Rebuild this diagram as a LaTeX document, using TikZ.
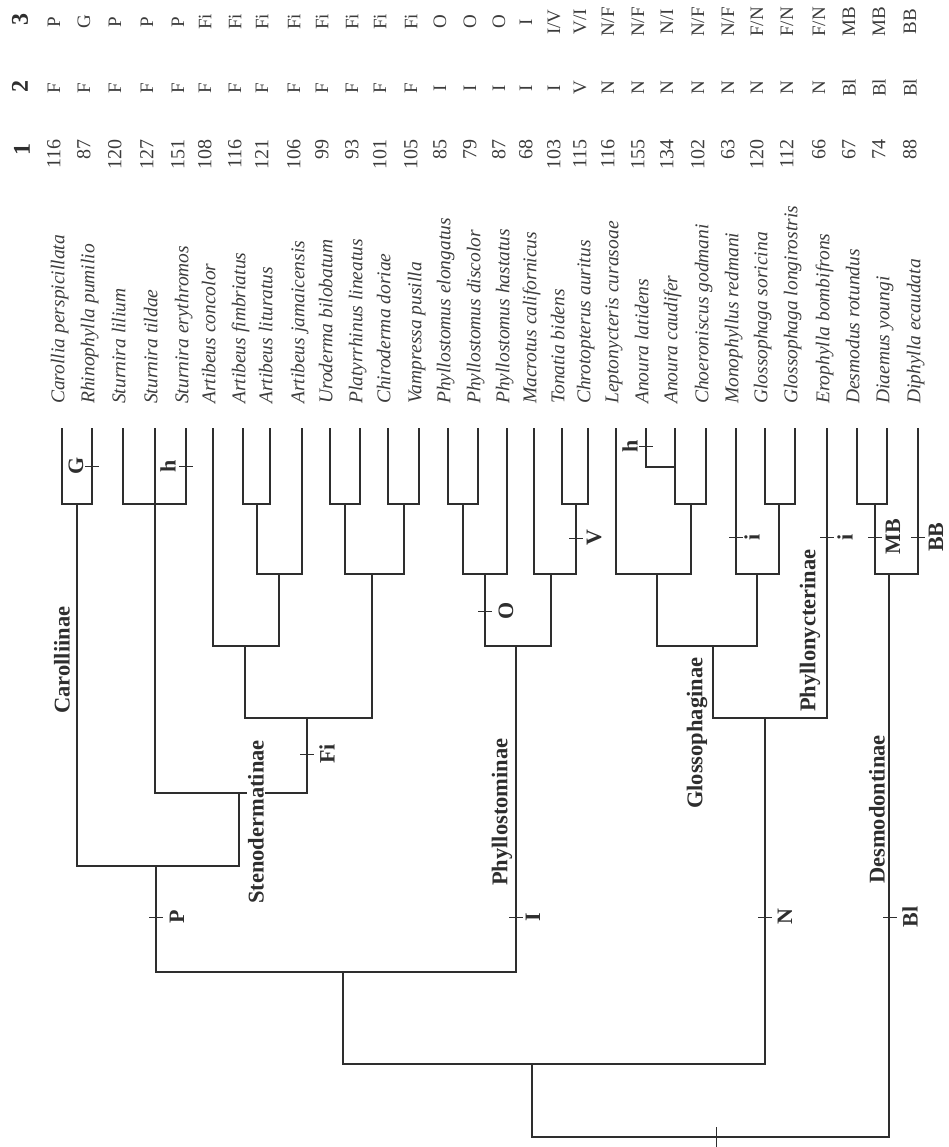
\documentclass[tikz,border=0pt]{standalone}
\usepackage{fontspec}
\setmainfont{Liberation Serif}
\usetikzlibrary{positioning}
\definecolor{ink}{HTML}{2E2E2E}
\definecolor{softink}{HTML}{3C3C3C}

\begin{document}
\begin{tikzpicture}[
  x=1pt,y=-1pt,
  br/.style={draw=ink,line width=1.1pt},
  tickline/.style={draw=ink,line width=0.9pt},
  taxon/.style={rotate=90,anchor=mid west,inner sep=0pt,text=softink,font=\fontsize{19.5}{20}\selectfont\itshape},
  score/.style={rotate=90,anchor=mid east,inner sep=0pt,text=softink,font=\fontsize{20}{20}\selectfont},
  datum/.style={rotate=90,anchor=center,inner sep=0pt,text=softink,font=\fontsize{19}{20}\selectfont},
  head/.style={rotate=90,anchor=center,inner sep=0pt,text=ink,font=\fontsize{24}{24}\selectfont\bfseries},
  clade/.style={rotate=90,anchor=west,inner sep=1pt,text=ink,font=\fontsize{22.5}{23}\selectfont\bfseries},
  trait/.style={rotate=90,anchor=center,inner sep=0pt,text=ink,font=\fontsize{22}{22}\selectfont\bfseries}
]
\useasboundingbox (0,0) rectangle (948,1147);

% column headers
\node[head] (h3) at (20,20) {3};
\node[head] (h2) at (20,87) {2};
\node[head] (h1) at (22,150) {1};

% taxa, with the three data rows
\foreach \x/\n/\a/\b/\c [count=\i from 0] in {
  62/Carollia perspicillata/116/F/P,
  92/Rhinophylla pumilio/87/F/G,
  123/Sturnira lilium/120/F/P,
  155/Sturnira tildae/127/F/P,
  186/Sturnira erythromos/151/F/P,
  213/Artibeus concolor/108/F/Fi,
  243/Artibeus fimbriatus/116/F/Fi,
  270/Artibeus lituratus/121/F/Fi,
  302/Artibeus jamaicensis/106/F/Fi,
  330/Uroderma bilobatum/99/F/Fi,
  360/Platyrrhinus lineatus/93/F/Fi,
  388/Chiroderma doriae/101/F/Fi,
  419/Vampressa pusilla/105/F/Fi,
  448/Phyllostomus elongatus/85/I/O,
  478/Phyllostomus discolor/79/I/O,
  507/Phyllostomus hastatus/87/I/O,
  534/Macrotus californicus/68/I/I,
  562/Tonatia bidens/103/I/{I/V},
  588/Chrotopterus auritus/115/V/{V/I},
  616/Leptonycteris curasoae/116/N/{N/F},
  646/Anoura latidens/155/N/{N/F},
  675/Anoura caudifer/134/N/{N/I},
  706/Choeroniscus godmani/102/N/{N/F},
  736/Monophyllus redmani/63/N/{N/F},
  765/Glossophaga soricina/120/N/{F/N},
  795/Glossophaga longirostris/112/N/{F/N},
  827/Erophylla bombifrons/66/N/{F/N},
  857/Desmodus rotundus/67/Bl/MB,
  887/Diaemus youngi/74/Bl/MB,
  918/Diphylla ecaudata/88/Bl/BB}{
  \coordinate (t\i) at (\x,428);
  \node[taxon] (n\i) at (\x,404) {\n};
  \node[score] (s\i) at (\x-4,139) {\a};
  \node[datum] (f\i) at (\x-8,88) {\b};
  \node[datum] (d\i) at (\x-8,22) {\c};
}

% internal nodes
\coordinate (carol) at (77,504);
\coordinate (sturn) at (155,504);
\coordinate (art1) at (257,504);
\coordinate (art2) at (279,574);
\coordinate (art3) at (245,646);
\coordinate (uropl) at (345,504);
\coordinate (chiva) at (404,504);
\coordinate (upcv) at (372,574);
\coordinate (fi) at (307,718);
\coordinate (steno) at (239,793);
\coordinate (pnode) at (156,866);
\coordinate (phy1) at (463,504);
\coordinate (phy2) at (485,574);
\coordinate (tonch) at (576,504);
\coordinate (macto) at (551,574);
\coordinate (phyllo) at (516,646);
\coordinate (inner) at (343,972);
\coordinate (anoura) at (675,467);
\coordinate (ancho) at (691,504);
\coordinate (lepan) at (657,574);
\coordinate (gloss1) at (779,504);
\coordinate (mongl) at (757,574);
\coordinate (glosso) at (713,646);
\coordinate (nect) at (765,718);
\coordinate (nonvamp) at (532,1064);
\coordinate (desm1) at (875,504);
\coordinate (desmo) at (889,574);
\coordinate (root) at (716,1137);

% branches
\draw[br] (t0) |- (carol) -| (t1);
\draw[br] (t2) |- (sturn) -| (t4);
\draw[br] (t3) -- (sturn);
\draw[br] (t6) |- (art1) -| (t7);
\draw[br] (art1) |- (art2) -| (t8);
\draw[br] (t5) |- (art3) -| (art2);
\draw[br] (t9) |- (uropl) -| (t10);
\draw[br] (t11) |- (chiva) -| (t12);
\draw[br] (uropl) |- (upcv) -| (chiva);
\draw[br] (art3) |- (fi) -| (upcv);
\draw[br] (sturn) |- (steno) -| (fi);
\draw[br] (carol) |- (pnode) -| (steno);
\draw[br] (t13) |- (phy1) -| (t14);
\draw[br] (phy1) |- (phy2) -| (t15);
\draw[br] (t17) |- (tonch) -| (t18);
\draw[br] (t16) |- (macto) -| (tonch);
\draw[br] (phy2) |- (phyllo) -| (macto);
\draw[br] (pnode) |- (inner) -| (phyllo);
\draw[br] (t20) |- (anoura);
\draw[br] (t21) |- (ancho) -| (t22);
\draw[br] (t19) |- (lepan) -| (ancho);
\draw[br] (t24) |- (gloss1) -| (t25);
\draw[br] (t23) |- (mongl) -| (gloss1);
\draw[br] (lepan) |- (glosso) -| (mongl);
\draw[br] (glosso) |- (nect) -| (t26);
\draw[br] (inner) |- (nonvamp) -| (nect);
\draw[br] (t27) |- (desm1) -| (t28);
\draw[br] (desm1) |- (desmo) -| (t29);
\draw[br] (nonvamp) |- (root) -| (desmo);
\draw[tickline] (root) ++(0,-10) -- ++(0,20);

% character changes on branches
\foreach \x/\y/\lab/\dx [count=\k] in {
  92/466/G/-16, 186/466/h/-18, 307/754/Fi/20, 485/611/O/21,
  576/538/V/18, 646/446/h/-16, 736/537/i/16, 827/537/i/18,
  875/537/MB/18, 918/537/BB/18, 156/917/P/21, 516/917/I/17,
  765/917/N/20, 890/917/Bl/20}{
  \draw[tickline] (\x-7,\y) -- (\x+7,\y);
  \node[trait] (k\k) at (\x+\dx,\y) {\lab};
}

% subfamilies
\node[clade] (carolliinae) at (62,715) {Carolliinae};
\node[clade,fill=white] (stenodermatinae) at (256,905) {Stenodermatinae};
\node[clade] (phyllostominae) at (502,887) {Phyllostominae};
\node[clade] (glossophaginae) at (697,810) {Glossophaginae};
\node[clade] (phyllonycterinae) at (810,713) {Phyllonycterinae};
\node[clade] (desmodontinae) at (877,885) {Desmodontinae};
\end{tikzpicture}
\end{document}
